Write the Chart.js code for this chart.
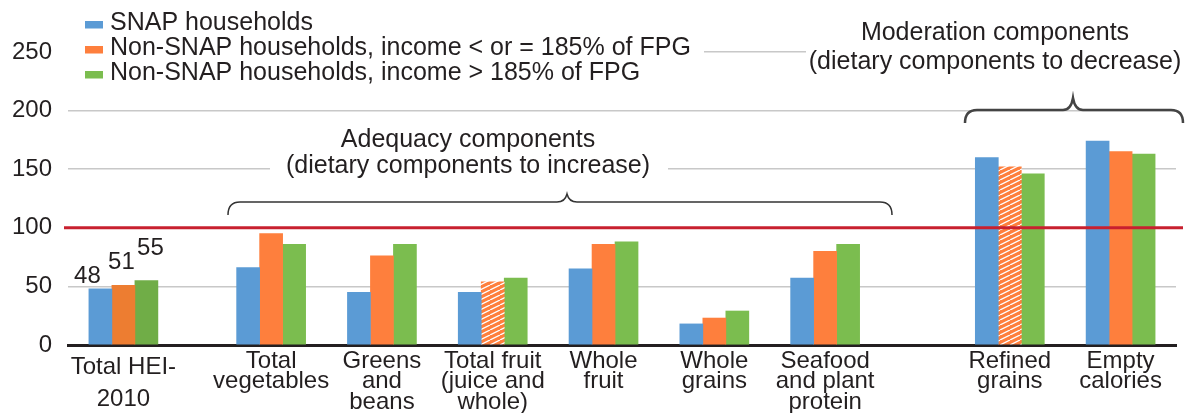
<!DOCTYPE html>
<html>
<head>
<meta charset="utf-8">
<script src="https://cdn.jsdelivr.net/npm/chart.js@4.4.0/dist/chart.umd.min.js"></script>
<style>
  html, body { margin: 0; padding: 0; background: #fff; }
  #wrap { width: 1189px; height: 413px; position: relative; }
</style>
</head>
<body>
<div id="wrap"><canvas id="myChart"></canvas></div>
<script>
const categories = [
  ['Total HEI-', '2010'],
  ['Total', 'vegetables'],
  ['Greens', 'and', 'beans'],
  ['Total fruit', '(juice and', 'whole)'],
  ['Whole', 'fruit'],
  ['Whole', 'grains'],
  ['Seafood', 'and plant', 'protein'],
  ['Refined', 'grains'],
  ['Empty', 'calories']
];
const seriesNames = [
  'SNAP households',
  'Non-SNAP households, income < or = 185% of FPG',
  'Non-SNAP households, income > 185% of FPG'
];
const snap = [48, 66, 45, 45, 65, 18, 57, 160, 174];
const nonSnapLow = [51, 95, 76, 54, 86, 23, 80, 152, 165];
const nonSnapHigh = [55, 86, 86, 57, 88, 29, 86, 146, 163];
const yTicks = [0, 50, 100, 150, 200, 250];
const referenceLevel = 100;

// the category axis is cut in thirds so groups can sit with uneven gaps
const slots = [1, 5, 8, 11, 14, 17, 20, 25, 28];
const slotCount = 30;

const font = 'Liberation Sans, Arial, Helvetica, sans-serif';
const textColor = '#231f20';
const blue = '#5b9bd5';
const orange = '#fe7f3d';
const green = '#7bbd4f';
const orangeDark = '#ed7d31';
const greenDark = '#70ad47';

const labels = Array.from({ length: slotCount }, () => '');
slots.forEach((s, i) => { labels[s] = categories[i]; });

function spread(values) {
  const out = Array(slotCount).fill(null);
  slots.forEach((s, i) => { out[s] = values[i]; });
  return out;
}

function hatch(color) {
  const c = document.createElement('canvas');
  c.width = 10; c.height = 5;
  const g = c.getContext('2d');
  g.fillStyle = color;
  g.fillRect(0, 0, 10, 5);
  g.strokeStyle = '#fff';
  g.lineWidth = 1.3;
  g.beginPath();
  for (let k = -1; k <= 1; k++) {
    g.moveTo(k * 10, 5);
    g.lineTo(k * 10 + 10, 0);
  }
  g.stroke();
  return g.createPattern(c, 'repeat');
}
const orangeHatch = hatch(orange);

// which category a slot holds
const catOf = (slot) => slots.indexOf(slot);

const overlay = {
  id: 'overlay',
  afterDatasetsDraw(chart) {
    const { ctx, chartArea, scales } = chart;
    ctx.save();

    // red line at 100
    const y100 = scales.y.getPixelForValue(referenceLevel);
    ctx.strokeStyle = '#c8202f';
    ctx.lineWidth = 3;
    ctx.beginPath();
    ctx.moveTo(chartArea.left - 4, y100);
    ctx.lineTo(chartArea.right + 7, y100);
    ctx.stroke();

    ctx.font = '24px ' + font;
    ctx.fillStyle = textColor;
    ctx.textBaseline = 'middle';
    ctx.textAlign = 'center';

    // score labels over the Total HEI bars
    const dx = [-13, -2, 4];
    const dy = [12, 23, 32];
    chart.data.datasets.forEach((ds, i) => {
      const bar = chart.getDatasetMeta(i).data[slots[0]];
      ctx.fillText(String(ds.data[slots[0]]), bar.x + dx[i], bar.y - dy[i]);
    });

    // legend
    ctx.font = '25px ' + font;
    ctx.fillStyle = '#fff';
    ctx.fillRect(chartArea.left - 4, 4, 640, 84);
    const swatch = [blue, orange, green];
    chart.data.datasets.forEach((ds, i) => {
      ctx.fillStyle = swatch[i];
      ctx.fillRect(85, 21 + 25 * i, 18, 7.5);
      ctx.fillStyle = textColor;
      ctx.textAlign = 'left';
      ctx.fillText(ds.label, 110, 23 + 25 * i);
    });

    // group notes
    ctx.textAlign = 'center';
    ctx.fillStyle = '#fff';
    ctx.fillRect(270, 125, 398, 56);
    ctx.fillRect(806, 14, 383, 62);
    ctx.fillStyle = textColor;
    ctx.fillText('Adequacy components', 468, 140);
    ctx.fillText('(dietary components to increase)', 468, 166);
    ctx.fillText('Moderation components', 995, 33);
    ctx.fillText('(dietary components to decrease)', 995, 62);

    function brace(x1, x2, xt, yEnd, yBar, yTip, w, col) {
      ctx.strokeStyle = col;
      ctx.lineWidth = w;
      ctx.beginPath();
      ctx.moveTo(x1, yEnd);
      ctx.quadraticCurveTo(x1, yBar, x1 + 12, yBar);
      ctx.lineTo(xt - 10, yBar);
      ctx.quadraticCurveTo(xt - 2, yBar, xt, yTip);
      ctx.quadraticCurveTo(xt + 2, yBar, xt + 10, yBar);
      ctx.lineTo(x2 - 12, yBar);
      ctx.quadraticCurveTo(x2, yBar, x2, yEnd);
      ctx.stroke();
    }
    brace(228, 892, 567, 215, 202, 194, 1.5, '#333');
    brace(965, 1183, 1073, 123, 110, 98, 2.5, '#444');

    ctx.restore();
  }
};

new Chart(document.getElementById('myChart'), {
  type: 'bar',
  data: {
    labels: labels,
    datasets: [
      {
        label: seriesNames[0],
        data: spread(snap),
        backgroundColor: blue
      },
      {
        label: seriesNames[1],
        data: spread(nonSnapLow),
        backgroundColor: (c) => {
          const k = catOf(c.dataIndex);
          if (k === 0) return orangeDark;
          if (k === 3 || k === 7) return orangeHatch;
          return orange;
        }
      },
      {
        label: seriesNames[2],
        data: spread(nonSnapHigh),
        backgroundColor: (c) => (catOf(c.dataIndex) === 0 ? greenDark : green)
      }
    ]
  },
  options: {
    responsive: true,
    maintainAspectRatio: false,
    animation: false,
    datasets: { bar: { barThickness: 23 } },
    layout: { padding: { top: 52, right: 13, left: 0, bottom: 0 } },
    plugins: { legend: { display: false }, tooltip: { enabled: false } },
    scales: {
      x: {
        grid: { display: false, drawTicks: false },
        border: { display: true, color: '#231f20', width: 3 },
        ticks: {
          autoSkip: false,
          maxRotation: 0,
          minRotation: 0,
          padding: 6,
          color: textColor,
          // the Total HEI label sits a little lower with looser lines
          font: (c) => ({
            family: font,
            size: 24,
            lineHeight: c.index === slots[0] ? 1.33 : 0.85
          })
        },
        afterFit: (s) => { s.height = 68; }
      },
      y: {
        min: 0,
        max: 250,
        afterBuildTicks: (s) => { s.ticks = yTicks.map((v) => ({ value: v })); },
        grid: {
          color: (c) => (c.tick && c.tick.value === 0 ? 'rgba(0,0,0,0)' : '#c8c8c8'),
          lineWidth: 1.5,
          drawTicks: false
        },
        border: { display: false },
        ticks: {
          padding: 16,
          color: textColor,
          font: { family: font, size: 24 }
        },
        afterFit: (s) => { s.width = 68; }
      }
    }
  },
  plugins: [overlay]
});
</script>
</body>
</html>
